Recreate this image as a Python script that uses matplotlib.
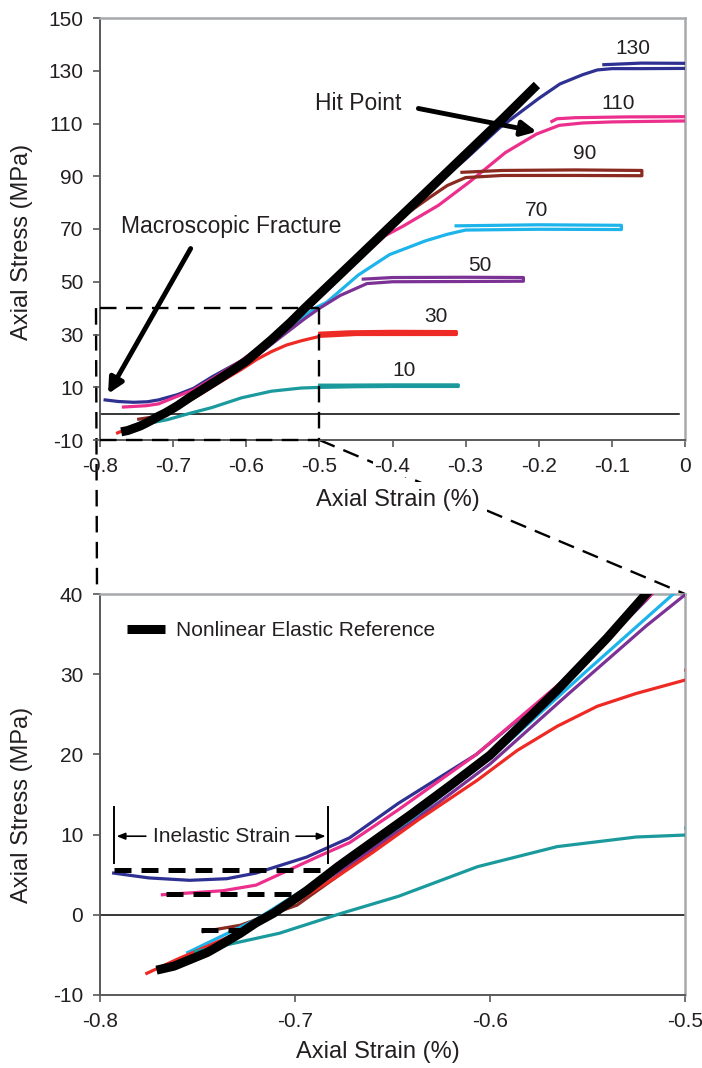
import matplotlib
matplotlib.use("Agg")
import matplotlib.pyplot as plt

plt.rcParams['font.family'] = ['Liberation Sans', 'DejaVu Sans']
plt.rcParams['axes.unicode_minus'] = False

# ---- data: axial strain (%) vs axial stress (MPa) ----
ref_strain = [-0.771, -0.762, -0.754, -0.745, -0.737, -0.728, -0.72, -0.711, -0.703,
              -0.694, -0.686, -0.678, -0.67, -0.655, -0.64, -0.62, -0.6, -0.58,
              -0.5656, -0.54, -0.52, -0.45, -0.4, -0.35, -0.3, -0.25, -0.2025]
ref_stress = [-6.9, -6.4, -5.6, -4.7, -3.6, -2.3, -1.0, 0.2, 1.5,
              3.0, 4.5, 6.0, 7.4, 10.0, 12.6, 16.2, 19.9, 24.6,
              28.0, 34.5, 40.0, 58.5, 71.8, 85.0, 98.3, 111.6, 124.6]

s130 = [-0.793, -0.775, -0.754, -0.735, -0.72, -0.694, -0.672, -0.647, -0.607, -0.56,
        -0.52, -0.45, -0.4, -0.35, -0.3, -0.253, -0.2, -0.171, -0.14, -0.12, -0.10,
        -0.06, 0.01, 0.01, -0.06, -0.111]
p130 = [5.2, 4.6, 4.3, 4.5, 5.2, 7.2, 9.6, 13.9, 20.0, 29.5,
        39.2, 58.0, 71.0, 84.5, 96.5, 108.5, 119.5, 125.0, 128.5, 130.3, 130.8,
        130.8, 130.9, 132.8, 132.9, 132.3]

s110 = [-0.768, -0.737, -0.72, -0.703, -0.686, -0.672, -0.647, -0.607, -0.56, -0.517,
        -0.45, -0.41, -0.386, -0.337, -0.294, -0.2455, -0.203, -0.172, -0.14, -0.1,
        -0.05, 0.01, 0.01, -0.08, -0.15, -0.175, -0.182]
p110 = [2.5, 3.0, 3.7, 5.6, 7.5, 9.0, 13.1, 20.0, 29.7, 40.0,
        57.5, 67.5, 71.0, 79.0, 88.0, 99.0, 106.0, 109.3, 110.2, 110.6,
        110.8, 111.0, 112.6, 112.5, 112.2, 111.8, 110.8]

s90 = [-0.747, -0.728, -0.713, -0.699, -0.68, -0.64, -0.6, -0.55, -0.5, -0.45, -0.4,
       -0.349, -0.325, -0.30, -0.25, -0.15, -0.059, -0.059, -0.15, -0.25, -0.305]
p90 = [-2.1, -1.3, 0.0, 1.2, 4.5, 11.8, 20.0, 32.0, 45.0, 58.5, 72.0,
       82.0, 86.5, 89.5, 90.3, 90.3, 90.2, 92.2, 92.4, 92.2, 91.5]

s70 = [-0.755, -0.72, -0.68, -0.64, -0.6, -0.55, -0.506, -0.49, -0.447, -0.404,
       -0.355, -0.325, -0.30, -0.2, -0.087, -0.087, -0.2, -0.313]
p70 = [-4.7, -0.6, 5.5, 12.0, 19.5, 30.5, 40.0, 42.2, 52.5, 60.3,
       65.5, 68.0, 69.6, 69.9, 69.8, 71.4, 71.6, 71.2]

s50 = [-0.765, -0.72, -0.68, -0.64, -0.6, -0.56, -0.52, -0.4995, -0.4715, -0.435,
       -0.40, -0.3, -0.221, -0.221, -0.3, -0.40, -0.44]
p50 = [-6.3, -1.2, 5.0, 11.5, 18.8, 27.5, 36.0, 40.0, 44.8, 49.3,
       50.0, 50.1, 50.2, 51.6, 51.7, 51.6, 51.0]

s30 = [-0.776, -0.76, -0.72, -0.68, -0.66, -0.637, -0.6064, -0.586, -0.5656, -0.545,
       -0.525, -0.4995, -0.45, -0.4, -0.3127, -0.3127, -0.4, -0.46, -0.4995]
p30 = [-7.3, -5.5, -1.3, 4.5, 7.8, 11.8, 16.8, 20.5, 23.5, 26.0,
       27.6, 29.3, 30.0, 30.0, 30.0, 31.1, 31.2, 31.0, 30.5]

s10 = [-0.751, -0.708, -0.676, -0.647, -0.6064, -0.5656, -0.525, -0.4995, -0.45, -0.4,
       -0.31, -0.31, -0.4, -0.47, -0.4995]
p10 = [-4.6, -2.3, 0.2, 2.3, 6.0, 8.5, 9.7, 9.95, 10.2, 10.3,
       10.3, 10.9, 10.9, 10.8, 10.8]

series_names = ["130", "110", "90", "70", "50", "30", "10"]
series_strain = [s130, s110, s90, s70, s50, s30, s10]
series_stress = [p130, p110, p90, p70, p50, p30, p10]
series_colors = ["#2E3192", "#EC2F8C", "#8A2A20", "#1CB4EA", "#7B3294", "#EE2A24", "#1A9A9C"]
label_pos = [(-0.0714, 138.6), (-0.091, 117.5), (-0.137, 98.5), (-0.203, 76.9),
             (-0.280, 56.3), (-0.340, 36.9), (-0.384, 16.5)]

top_xticks = [-0.8, -0.7, -0.6, -0.5, -0.4, -0.3, -0.2, -0.1, 0.0]
top_xlabels = ["-0.8", "-0.7", "-0.6", "-0.5", "-0.4", "-0.3", "-0.2", "-0.1", "0"]
top_yticks = [-10, 10, 30, 50, 70, 90, 110, 130, 150]
bot_xticks = [-0.8, -0.7, -0.6, -0.5]
bot_xlabels = ["-0.8", "-0.7", "-0.6", "-0.5"]
bot_yticks = [-10, 0, 10, 20, 30, 40]

# inelastic strain markers (strain start, strain end, stress level)
inel_levels = [(-0.793, -0.683, 5.6), (-0.766, -0.696, 2.6), (-0.748, -0.725, -1.9)]

W, H = 702, 1068
fig = plt.figure(figsize=(W / 100, H / 100), dpi=100)
L, R = 100, 685
ax1 = fig.add_axes([L / W, 1 - 440 / H, (R - L) / W, (440 - 18) / H])
ax2 = fig.add_axes([L / W, 1 - 995 / H, (R - L) / W, (995 - 594) / H])

TXT = "#231F20"


def style(ax):
    for side in ("top", "right"):
        ax.spines[side].set_color("#A7A9AC")
        ax.spines[side].set_linewidth(1.8)
    for side in ("left", "bottom"):
        ax.spines[side].set_color("#58595B")
        ax.spines[side].set_linewidth(1.4)
    ax.tick_params(direction="out", length=5, width=1.2, color="#58595B",
                   labelsize=15, labelcolor=TXT, pad=7)


for ax in (ax1, ax2):
    for xs, ys, c in zip(series_strain, series_stress, series_colors):
        ax.plot(xs, ys, color=c, lw=2.3, solid_joinstyle="round", zorder=3)

ax1.plot(ref_strain, ref_stress, color="black", lw=6.5, solid_capstyle="butt",
         solid_joinstyle="round", zorder=5)
ax2.plot(ref_strain, ref_stress, color="black", lw=6.5, solid_capstyle="butt",
         solid_joinstyle="round", zorder=5, label="Nonlinear Elastic Reference")

# ---- top panel ----
ax1.set_xlim(-0.8, 0)
ax1.set_ylim(-10, 150)
ax1.set_xticks(top_xticks)
ax1.set_xticklabels(top_xlabels)
ax1.set_yticks(top_yticks)
style(ax1)
for lbl in ax1.get_xticklabels()[1:]:
    lbl.set_bbox(dict(facecolor="white", edgecolor="none", pad=1))
ax1.axhline(0, xmin=0, xmax=0.99, color="black", lw=1.1, zorder=2)
ax1.set_xlabel("Axial Strain (%)", fontsize=17, color=TXT,
               bbox=dict(facecolor="white", edgecolor="none", pad=5))
ax1.xaxis.set_label_coords(0.51, -0.115)
ax1.set_ylabel("Axial Stress (MPa)", fontsize=17, color=TXT)
ax1.yaxis.set_label_coords(-0.115, 0.47)

for name, (x, y) in zip(series_names, label_pos):
    ax1.text(x, y, name, fontsize=15, color=TXT, ha="center", va="center")

ax1.text(-0.447, 117.6, "Hit Point", fontsize=16.5, color=TXT, ha="center", va="center")
ax1.annotate("", xy=(-0.2028, 106.9), xytext=(-0.3646, 115.7),
             arrowprops=dict(arrowstyle="-|>,head_length=0.9,head_width=0.45",
                             lw=3.5, color="black", shrinkA=0, shrinkB=0), zorder=6)
ax1.text(-0.62, 70.9, "Macroscopic Fracture", fontsize=16.5, color=TXT,
         ha="center", va="center")
ax1.annotate("", xy=(-0.789, 7.5), xytext=(-0.676, 62.6),
             arrowprops=dict(arrowstyle="-|>,head_length=0.9,head_width=0.45",
                             lw=3.5, color="black", shrinkA=0, shrinkB=0), zorder=6)

# zoom window outline
dash = dict(color="black", lw=1.7, linestyle=(0, (7, 4)))
ax1.plot([-0.8, -0.5], [40, 40], clip_on=False, zorder=4, **dash)
ax1.plot([-0.5, -0.5], [40, -10], clip_on=False, zorder=4, **dash)
ax1.plot([-0.8, -0.5], [-10, -10], clip_on=False, zorder=4, **dash)

# ---- bottom panel ----
ax2.set_xlim(-0.8, -0.5)
ax2.set_ylim(-10, 40)
ax2.set_xticks(bot_xticks)
ax2.set_xticklabels(bot_xlabels)
ax2.set_yticks(bot_yticks)
style(ax2)
ax2.axhline(0, color="black", lw=1.1, zorder=2)
ax2.set_xlabel("Axial Strain (%)", fontsize=17, color=TXT)
ax2.xaxis.set_label_coords(0.475, -0.115)
ax2.set_ylabel("Axial Stress (MPa)", fontsize=17, color=TXT)
ax2.yaxis.set_label_coords(-0.115, 0.475)

ax2.legend(loc="center left", bbox_to_anchor=(0.046, 0.908), frameon=False,
           fontsize=15, handlelength=1.85, handletextpad=0.5,
           borderpad=0, borderaxespad=0, labelcolor=TXT)

for x0, x1, y in inel_levels:
    ax2.plot([x0, x1], [y, y], color="black", lw=3.6, linestyle=(0, (3.4, 2.0)),
             solid_capstyle="butt", zorder=6)

ax2.plot([-0.7928, -0.7928], [6.5, 13.4], color="black", lw=1.4, zorder=6)
ax2.plot([-0.683, -0.683], [6.5, 13.4], color="black", lw=1.4, zorder=6)
ax2.text(-0.7375, 9.8, "Inelastic Strain", fontsize=15, color=TXT, ha="center", va="center")
ax2.annotate("", xy=(-0.7915, 9.8), xytext=(-0.7765, 9.8),
             arrowprops=dict(arrowstyle="-|>,head_length=0.5,head_width=0.2",
                             lw=1.2, color="black", shrinkA=0, shrinkB=0))
ax2.annotate("", xy=(-0.6843, 9.8), xytext=(-0.6995, 9.8),
             arrowprops=dict(arrowstyle="-|>,head_length=0.5,head_width=0.2",
                             lw=1.2, color="black", shrinkA=0, shrinkB=0))

# connectors between the zoom window and the lower panel (drawn beneath the axis labels)
fig.canvas.draw()
to_fig = fig.transFigure.inverted()
a_left = to_fig.transform(ax1.transData.transform((-0.8, 40))) - [4 / W, 0]
b_left = to_fig.transform(ax2.transData.transform((-0.8, 40))) - [3 / W, 0]
a_right = to_fig.transform(ax1.transData.transform((-0.5, -10)))
b_right = to_fig.transform(ax2.transData.transform((-0.5, 40)))
for a, b in ((a_left, b_left), (a_right, b_right)):
    ax1.plot([a[0], b[0]], [a[1], b[1]], transform=fig.transFigure,
             clip_on=False, zorder=1, **dash)

fig.savefig("out.png", dpi=100)
